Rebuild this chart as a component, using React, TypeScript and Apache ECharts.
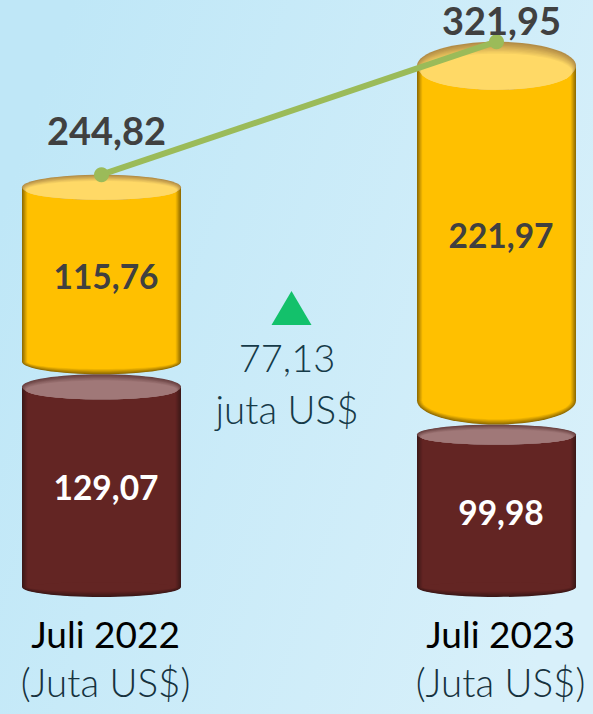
import React, { useEffect, useRef } from "react";
import * as echarts from "echarts";

const categories = ["Juli 2022", "Juli 2023"];
const unitLabel = "(Juta US$)";
const maroonValues = [129.07, 99.98];
const goldValues = [115.76, 221.97];
const totals = [244.82, 321.95];
const deltaLabel = ["77,13", "juta US$"];

const goldRy = [12.5, 24];
const maroonTopRy = [12.5, 10];
const maroonBottomRy = [10, 10];
const totalLabelDistance = [18, -5];
const FONT = "Lato, 'Open Sans', sans-serif";
const CYL_W = 159;

const fmt = (v: number) => v.toFixed(2).replace(".", ",");

const mix = (a: number[], b: number[], t: number) =>
  `rgb(${a.map((c, i) => Math.round(c + (b[i] - c) * t)).join(",")})`;

function cylinder(opts: {
  base: number[];
  values: number[];
  topRy: number[];
  bottomRy: number[];
  body: number[];
  edge: number[];
  cap: number[];
  capEdge: number[];
  textColor: string;
  z: number;
}) {
  return {
    type: "custom",
    coordinateSystem: "cartesian2d",
    z: opts.z,
    data: opts.values.map((v, i) => [i, opts.base[i], v]),
    renderItem: (_: any, api: any) => {
      const i = api.value(0);
      const b = api.value(1);
      const v = api.value(2);
      const cx = api.coord([i, 0])[0];
      const yTop = api.coord([i, b + v])[1];
      const yBot = api.coord([i, b])[1];
      const rT = opts.topRy[i];
      const rB = opts.bottomRy[i];
      const rx = CYL_W / 2;
      const children: any[] = [];
      const steps = 8;
      for (let s = 0; s < steps; s++) {
        const color = mix(opts.edge, opts.body, s / (steps - 1));
        const inset = s * 0.75;
        const sideBottom = yBot - rB;
        children.push({
          type: "rect",
          shape: { x: cx - rx + inset, y: yTop + rT, width: CYL_W - 2 * inset, height: sideBottom - yTop - rT },
          style: { fill: color },
        });
        children.push({
          type: "ellipse",
          shape: { cx, cy: sideBottom, rx: rx - inset, ry: Math.max(rB - inset, 1) },
          style: { fill: color },
        });
      }
      const capSteps = 10;
      const capDepth = 0.5 * rT;
      for (let s = 0; s < capSteps; s++) {
        const t = s / (capSteps - 1);
        const color = mix(opts.capEdge, opts.cap, t);
        children.push({
          type: "ellipse",
          shape: { cx, cy: yTop + rT + (t * capDepth) / 2, rx: rx - t * 4, ry: rT - (t * capDepth) / 2 },
          style: { fill: color },
        });
      }
      children.push({
        type: "text",
        x: cx + 4.5,
        y: (yTop + yBot) / 2 + 1.5,
        style: {
          text: fmt(v),
          font: `bold 33.5px ${FONT}`,
          fill: opts.textColor,
          align: "center",
          verticalAlign: "middle",
        },
      });
      return { type: "group", children };
    },
  };
}

const background = {
  type: "linear",
  x: 0,
  y: 0.3,
  x2: 1,
  y2: 0.7,
  colorStops: [
    { offset: 0, color: "#bfe7f7" },
    { offset: 1, color: "#d8f0fa" },
  ],
};

export default function App() {
  const ref = useRef<HTMLDivElement>(null);
  useEffect(() => {
    document.body.style.margin = "0";
    const chart = echarts.init(ref.current!, null, { renderer: "svg" });
    chart.setOption({
      animation: false,
      backgroundColor: background,
      grid: { left: 101.5, right: 96.5, top: 0, bottom: 117 },
      xAxis: {
        type: "category",
        boundaryGap: false,
        data: categories,
        axisLine: { show: false },
        axisTick: { show: false },
        axisLabel: {
          interval: 0,
          margin: 12,
          padding: [0, 0, 0, 8],
          formatter: (c: string) => `{a|${c}}\n{b|${unitLabel}}`,
          rich: {
            a: { fontFamily: FONT, fontSize: 37, color: "#000", lineHeight: 48, fontWeight: 400 },
            b: { fontFamily: FONT, fontSize: 38.5, color: "#16323e", lineHeight: 50, fontWeight: 300 },
          },
        },
      },
      yAxis: { type: "value", min: 0, max: 346.1, show: false, splitLine: { show: false } },
      series: [
        cylinder({
          base: [0, 0],
          values: maroonValues,
          topRy: maroonTopRy,
          bottomRy: maroonBottomRy,
          body: [99, 37, 35],
          edge: [60, 24, 24],
          cap: [160, 120, 120],
          capEdge: [105, 65, 65],
          textColor: "#ffffff",
          z: 2,
        }),
        cylinder({
          base: maroonValues,
          values: goldValues,
          topRy: goldRy,
          bottomRy: goldRy,
          body: [255, 192, 0],
          edge: [145, 108, 0],
          cap: [255, 217, 102],
          capEdge: [178, 140, 70],
          textColor: "#404040",
          z: 3,
        }),
        {
          type: "line",
          z: 4,
          data: totals.map((value, i) => ({
            value,
            label: { distance: totalLabelDistance[i] },
          })),
          lineStyle: { color: "#9BBB59", width: 6 },
          itemStyle: { color: "#9BBB59" },
          symbol: "circle",
          symbolSize: 15,
          label: {
            show: true,
            position: "top",
            offset: [5, 0],
            formatter: (p: any) => fmt(p.value),
            fontFamily: FONT,
            fontSize: 38,
            fontWeight: "bold",
            color: "#404040",
          },
        },
      ],
      graphic: [
        {
          type: "polygon",
          shape: { points: [[291.5, 291], [311.5, 325], [271.5, 325]] },
          style: { fill: "#13C16B" },
        },
        {
          type: "text",
          x: 287,
          y: 356.5,
          style: { text: deltaLabel[0], font: `300 38px ${FONT}`, fill: "#163a48", align: "center", verticalAlign: "middle" },
        },
        {
          type: "text",
          x: 287,
          y: 408.5,
          style: { text: deltaLabel[1], font: `300 38.5px ${FONT}`, fill: "#163a48", align: "center", verticalAlign: "middle" },
        },
      ],
    });
    return () => chart.dispose();
  }, []);
  return <div ref={ref} style={{ width: 593, height: 714 }} />;
}
